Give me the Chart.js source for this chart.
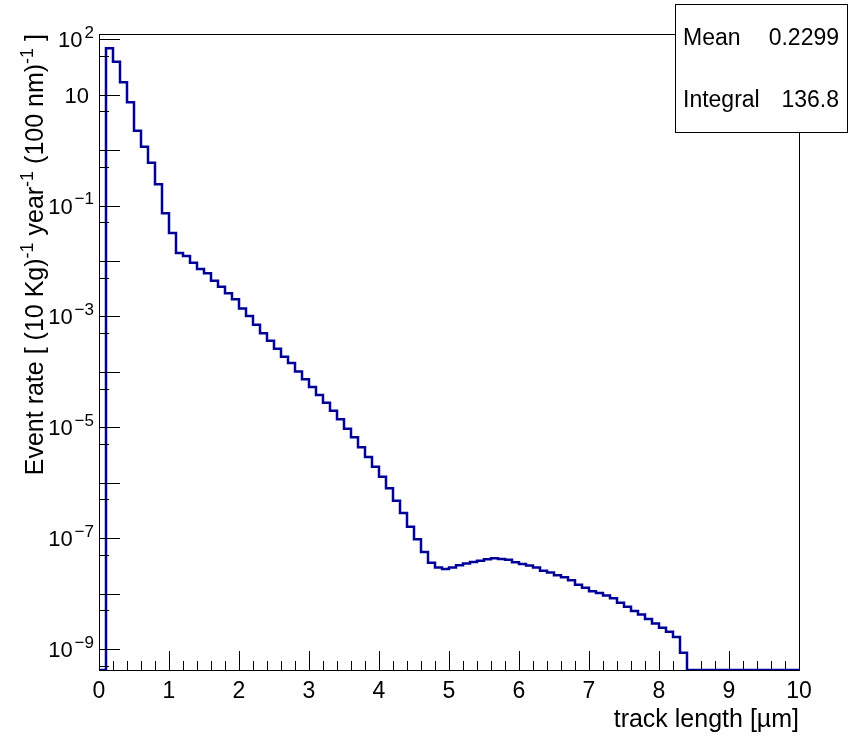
<!DOCTYPE html>
<html>
<head>
<meta charset="utf-8">
<script src="https://cdn.jsdelivr.net/npm/chart.js@4.4.1/dist/chart.umd.min.js"></script>
<style>
  body { margin: 0; background: #fff; }
  canvas { display: block; }
</style>
</head>
<body>
<canvas id="histo" width="849" height="736"></canvas>
<script>
// track length histogram, 100 bins of 100 nm from 0 to 10 um
const nBins = 100;
const binWidth = 0.1;
const rate = [
  0, 68.9, 39.4, 16.8, 7.30, 2.24, 1.155, 0.594, 0.242, 0.0726,
  0.0321, 0.0140, 0.0123, 0.00933, 0.00718, 0.00600, 0.00441, 0.00344, 0.00262, 0.00204,
  1.40e-3, 1.02e-3, 7.10e-4, 4.96e-4, 3.65e-4, 2.62e-4, 1.88e-4, 1.45e-4, 1.02e-4, 7.34e-5,
  5.33e-5, 3.83e-5, 2.78e-5, 2.00e-5, 1.40e-5, 9.44e-6, 6.61e-6, 4.36e-6, 2.91e-6, 1.95e-6,
  1.28e-6, 7.94e-7, 4.75e-7, 2.84e-7, 1.61e-7, 9.57e-8, 5.62e-8, 3.61e-8, 2.96e-8, 2.78e-8,
  2.98e-8, 3.25e-8, 3.52e-8, 3.72e-8, 3.93e-8, 4.16e-8, 4.36e-8, 4.21e-8, 4.09e-8, 3.69e-8,
  3.42e-8, 3.21e-8, 2.96e-8, 2.59e-8, 2.40e-8, 2.16e-8, 1.97e-8, 1.74e-8, 1.45e-8, 1.28e-8,
  1.11e-8, 1.03e-8, 9.24e-9, 8.23e-9, 6.85e-9, 5.80e-9, 4.86e-9, 4.23e-9, 3.48e-9, 2.91e-9,
  2.43e-9, 2.06e-9, 1.65e-9, 8.59e-10, 0, 0, 0, 0, 0, 0,
  0, 0, 0, 0, 0, 0, 0, 0, 0, 0
];

const xTickLabels = ['0', '1', '2', '3', '4', '5', '6', '7', '8', '9', '10'];
const yLabelExps = [2, 1, -1, -3, -5, -7, -9];
const statNames = ['Mean', 'Integral'];
const statValues = ['0.2299', '136.8'];

const yMin = 4.2e-10;
const yMax = 124.6;
const lineColor = '#000099';
const fontName = '"Liberation Sans", Arial, sans-serif';

// stepped outline: a point on every lower bin edge plus the last upper edge;
// with stepped 'before' each level runs from its point to the next one.
// empty bins sit on the bottom of the log axis
const points = [];
for (let i = 0; i < nBins; i++) {
  points.push({ x: i * binWidth, y: rate[i] > 0 ? rate[i] : yMin });
}
points.push({ x: nBins * binWidth, y: rate[nBins - 1] > 0 ? rate[nBins - 1] : yMin });

function supText(ctx, parts, x, y, size, supScale, gap) {
  // parts: [text, isSuperscript]; draws left to right, returns width
  let cx = x;
  parts.forEach(([t, sup]) => {
    ctx.font = (sup ? Math.round(size * supScale) : size) + 'px ' + fontName;
    if (sup) cx += gap;
    ctx.fillText(t, cx, sup ? y - size * 0.42 : y);
    cx += ctx.measureText(t).width;
  });
  return cx - x;
}

function partsWidth(ctx, parts, size, supScale, gap) {
  let w = 0;
  parts.forEach(([t, sup]) => {
    ctx.font = (sup ? Math.round(size * supScale) : size) + 'px ' + fontName;
    w += ctx.measureText(t).width + (sup ? gap : 0);
  });
  return w;
}

const rootFrame = {
  id: 'rootFrame',
  afterDatasetsDraw(chart) {
    const ctx = chart.ctx;
    const a = chart.chartArea;
    const xs = chart.scales.x;
    const ys = chart.scales.y;
    ctx.save();
    ctx.strokeStyle = '#000';
    ctx.fillStyle = '#000';
    ctx.lineWidth = 1;

    // frame
    ctx.strokeRect(Math.round(a.left) + 0.5, Math.round(a.top) + 0.5,
      Math.round(a.right - a.left), Math.round(a.bottom - a.top));

    // x ticks every 0.2, major on integers
    ctx.beginPath();
    for (let k = 0; k <= 50; k++) {
      const px = Math.round(xs.getPixelForValue(k * 0.2)) + 0.5;
      const len = k % 5 === 0 ? 19 : 9;
      ctx.moveTo(px, a.bottom);
      ctx.lineTo(px, a.bottom - len);
    }
    // y ticks: decades and 5 x decades
    for (let e = -10; e <= 2; e++) {
      [[Math.pow(10, e), 21], [5 * Math.pow(10, e), 10]].forEach(([v, len]) => {
        if (v < yMin || v > yMax) return;
        const py = Math.round(ys.getPixelForValue(v)) + 0.5;
        ctx.moveTo(a.left, py);
        ctx.lineTo(a.left + len, py);
      });
    }
    ctx.stroke();

    // x tick labels
    ctx.textAlign = 'center';
    ctx.textBaseline = 'alphabetic';
    ctx.font = '23px ' + fontName;
    xTickLabels.forEach((t, i) => {
      ctx.fillText(t, xs.getPixelForValue(i), 698);
    });

    // y tick labels
    ctx.textAlign = 'left';
    yLabelExps.forEach(e => {
      const py = ys.getPixelForValue(Math.pow(10, e)) + 8;
      let parts;
      if (e === 1) parts = [['10', false]];
      else parts = [['10', false], [String(e).replace('-', '\u2212'), true]];
      const w = partsWidth(ctx, parts, 22, 0.75, 2);
      const right = e === 1 ? 89 : 94;
      supText(ctx, parts, right - w, py, 22, 0.75, 2);
    });

    // axis titles
    ctx.font = '25px ' + fontName;
    ctx.textAlign = 'right';
    ctx.fillText('track length [\u00b5m]', a.right, 727);

    const yTitle = [
      ['Event rate [ (10 Kg)', false], ['-1', true],
      [' year', false], ['-1', true],
      [' (100 nm)', false], ['-1', true],
      [' ]', false]
    ];
    ctx.textAlign = 'left';
    ctx.translate(43, a.top);
    ctx.rotate(-Math.PI / 2);
    const tw = partsWidth(ctx, yTitle, 25, 0.7, 0);
    supText(ctx, yTitle, -tw, 0, 25, 0.7, 0);
    ctx.restore();

    // statistics box
    ctx.save();
    ctx.fillStyle = '#fff';
    ctx.fillRect(675, 4, 172, 128);
    ctx.strokeStyle = '#000';
    ctx.lineWidth = 1;
    ctx.strokeRect(675.5, 4.5, 172, 128);
    ctx.fillStyle = '#000';
    ctx.font = '23px ' + fontName;
    statNames.forEach((n, i) => {
      const by = 45 + i * 62;
      ctx.textAlign = 'left';
      ctx.fillText(n, 683, by);
      ctx.textAlign = 'right';
      ctx.fillText(statValues[i], 839, by);
    });
    ctx.restore();
  }
};

new Chart(document.getElementById('histo'), {
  type: 'line',
  data: {
    datasets: [{
      data: points,
      stepped: 'before',
      borderColor: lineColor,
      borderWidth: 2.5,
      pointRadius: 0,
      fill: false
    }]
  },
  options: {
    responsive: false,
    animation: false,
    events: [],
    layout: { padding: { left: 99, right: 50, top: 34, bottom: 66 } },
    scales: {
      x: { type: 'linear', min: 0, max: 10, display: false },
      y: { type: 'logarithmic', min: yMin, max: yMax, display: false }
    },
    plugins: { legend: { display: false }, tooltip: { enabled: false } }
  },
  plugins: [rootFrame]
});
</script>
</body>
</html>
